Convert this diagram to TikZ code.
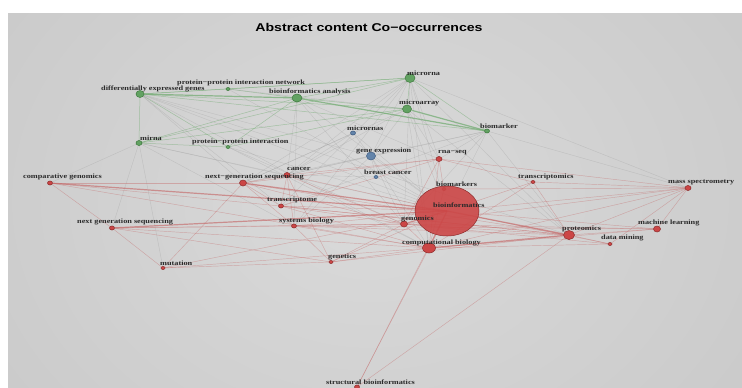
\documentclass[tikz,border=0pt]{standalone}
\usepackage{fontspec}
\usepackage{graphicx}
\setmainfont{Liberation Serif}
\newfontfamily\titlefont{Liberation Sans}
\usetikzlibrary{shapes.geometric}
\pgfdeclarelayer{back}
\pgfdeclarelayer{edges}
\pgfsetlayers{back,edges,main}
\newcommand\wlab[1]{\scalebox{1.25}[1]{#1}}
\definecolor{panel}{HTML}{CBCBCB}
\definecolor{panelin}{HTML}{DADADA}
\definecolor{gfill}{HTML}{62A262}
\definecolor{gline}{HTML}{3E7A3E}
\definecolor{rfill}{HTML}{CC4646}
\definecolor{rline}{HTML}{8E2C2C}
\definecolor{bfill}{HTML}{6384AA}
\definecolor{bline}{HTML}{3E5C82}
\definecolor{labtext}{HTML}{2A2A2A}
\definecolor{redgec}{HTML}{C46060}
\definecolor{gedgec}{HTML}{6EAA6E}
\definecolor{xedgec}{HTML}{9A9A9A}
\tikzset{
  dotbase/.style={ellipse, inner sep=0pt, line width=0.5pt},
  gdot/.style={dotbase, fill=gfill, draw=gline},
  rdot/.style={dotbase, fill=rfill, draw=rline},
  bdot/.style={dotbase, fill=bfill, draw=bline},
  sz/.style 2 args={minimum width=#1, minimum height=#2},
  lbl/.style={anchor=west, inner sep=0pt, text=labtext, font=\fontsize{6.6}{7}\selectfont\bfseries},
  redge/.style={draw=redgec, opacity=0.4, line width=0.45pt},
  redgeT/.style={draw=redgec, opacity=0.6, line width=1.2pt},
  gedge/.style={draw=gedgec, opacity=0.5, line width=0.5pt},
  gedgeT/.style={draw=gedgec, opacity=0.7, line width=1.2pt},
  xedge/.style={draw=xedgec, opacity=0.35, line width=0.4pt},
}
\begin{document}
\begin{tikzpicture}[x=1pt, y=-1pt]
\useasboundingbox (0,0) rectangle (742,388);
\begin{pgfonlayer}{back}
  \fill[white] (0,0) rectangle (742,388);
  \begin{scope}
    \clip (8,13) rectangle (742,388);
    \shade[inner color=panelin, outer color=panel] (-60,-140) rectangle (800,540);
  \end{scope}
\end{pgfonlayer}
\node[font=\titlefont\fontsize{11.3}{13}\selectfont\bfseries] (title) at (369,27) {\wlab{Abstract content Co−occurrences}};
% nodes
\node[gdot, sz={10}{9}] (mrna) at (410,78) {};
\node[gdot, sz={4}{3}] (ppin) at (228,89) {};
\node[gdot, sz={8}{7}] (deg) at (140,94) {};
\node[gdot, sz={10}{8}] (bia) at (297,98) {};
\node[gdot, sz={9}{8}] (marr) at (407,109) {};
\node[gdot, sz={5}{4}] (bmk) at (487,131) {};
\node[bdot, sz={5}{4}] (mrnas) at (353,133) {};
\node[bdot, sz={9}{8}] (gexp) at (371,156) {};
\node[rdot, sz={6}{5}] (rnaseq) at (439,159) {};
\node[gdot, sz={6}{5}] (mirna) at (139,143) {};
\node[gdot, sz={4}{3}] (ppi) at (228,147) {};
\node[rdot, sz={5}{4}] (cg) at (50,183) {};
\node[rdot, sz={7}{6}] (ngsa) at (243,183) {};
\node[rdot, sz={6}{5}] (cancer) at (287,175) {};
\node[bdot, sz={4}{3}] (bc) at (376,177) {};
\node[rdot, sz={4}{3}] (bmks) at (444,189) {};
\node[rdot, sz={64}{50}, fill opacity=0.9] (bio) at (447,211) {};
\node[rdot, sz={7}{6}] (gen) at (404,224) {};
\node[rdot, sz={13}{10}] (cb) at (429,248) {};
\node[rdot, sz={5}{4}] (tome) at (281,206) {};
\node[rdot, sz={5}{4}] (sb) at (294,226) {};
\node[rdot, sz={4}{3}] (genet) at (331,262) {};
\node[rdot, sz={4}{3}] (tmics) at (533,182) {};
\node[rdot, sz={6}{5}] (ms) at (688,188) {};
\node[rdot, sz={7}{6}] (ml) at (657,229) {};
\node[rdot, sz={11}{9}] (prot) at (569,235) {};
\node[rdot, sz={4}{3}] (dm) at (610,244) {};
\node[rdot, sz={5}{4}] (ngsb) at (112,228) {};
\node[rdot, sz={4}{3}] (mut) at (163,268) {};
\node[rdot, sz={5}{4}] (sbio) at (357,387) {};
% labels
\node[lbl] (t-mrna) at (407,73) {\wlab{microrna}};
\node[lbl] (t-ppin) at (177,83) {\wlab{protein−protein interaction network}};
\node[lbl] (t-deg) at (101,89) {\wlab{differentially expressed genes}};
\node[lbl] (t-bia) at (269,92) {\wlab{bioinformatics analysis}};
\node[lbl] (t-marr) at (399,103) {\wlab{microarray}};
\node[lbl] (t-bmk) at (480,126) {\wlab{biomarker}};
\node[lbl] (t-mrnas) at (347,128) {\wlab{micrornas}};
\node[lbl] (t-mirna) at (140,138) {\wlab{mirna}};
\node[lbl] (t-ppi) at (192,142) {\wlab{protein−protein interaction}};
\node[lbl] (t-gexp) at (356,151) {\wlab{gene expression}};
\node[lbl] (t-rnaseq) at (438,153) {\wlab{rna−seq}};
\node[lbl] (t-cancer) at (287,169) {\wlab{cancer}};
\node[lbl] (t-ngsa) at (205,177) {\wlab{next−generation sequencing}};
\node[lbl] (t-cg) at (23,177) {\wlab{comparative genomics}};
\node[lbl] (t-bc) at (364,172) {\wlab{breast cancer}};
\node[lbl] (t-tmics) at (518,177) {\wlab{transcriptomics}};
\node[lbl] (t-ms) at (668,182) {\wlab{mass spectrometry}};
\node[lbl] (t-bmks) at (436,184) {\wlab{biomarkers}};
\node[lbl] (t-tome) at (267,200) {\wlab{transcriptome}};
\node[lbl] (t-bio) at (433,205) {\wlab{bioinformatics}};
\node[lbl] (t-gen) at (401,219) {\wlab{genomics}};
\node[lbl] (t-sb) at (279,221) {\wlab{systems biology}};
\node[lbl] (t-ngsb) at (77,222) {\wlab{next generation sequencing}};
\node[lbl] (t-ml) at (638,223) {\wlab{machine learning}};
\node[lbl] (t-prot) at (562,229) {\wlab{proteomics}};
\node[lbl] (t-dm) at (601,238) {\wlab{data mining}};
\node[lbl] (t-cb) at (402,243) {\wlab{computational biology}};
\node[lbl] (t-genet) at (328,257) {\wlab{genetics}};
\node[lbl] (t-mut) at (160,263) {\wlab{mutation}};
\node[lbl] (t-sbio) at (326,382) {\wlab{structural bioinformatics}};
% edges
\begin{pgfonlayer}{edges}
\foreach \a/\b in {deg/marr, deg/mrna, deg/ppin, deg/mirna, deg/bmk, deg/ppi, bia/mrna, bia/marr, bia/ppin, mrna/marr, mrna/bmk, mrna/mirna, mirna/bia, mirna/marr, ppi/bia, ppin/mrna, ppi/marr, mirna/ppi}
  \draw[gedge] (\a) -- (\b);
\foreach \a/\b in {deg/bia, bia/bmk, marr/bmk}
  \draw[gedgeT] (\a) -- (\b);
\foreach \a/\b in {deg/bio, deg/gexp, bia/bio, mrna/bio, mrna/gexp, mrna/cancer, mrna/rnaseq, marr/bio, marr/gexp, marr/cancer, bmk/bio, bmk/cancer, bmk/ms, mirna/bio, mirna/cg, mirna/ngsb, ppi/bio, mrnas/gexp, mrnas/bio, gexp/bio, gexp/bc, bc/bio, mrnas/cancer, mrna/ms, bmk/tome, deg/cb, bia/cancer, mirna/cancer, deg/ngsa, mrna/cb, marr/cb, bia/gen, ppin/bio, mrna/gen, mrna/sb, bmk/ngsa, gexp/cancer, gexp/sb, bc/cancer, deg/tome, mirna/mut, bia/rnaseq, mrna/prot, marr/prot, bmk/prot, bmk/rnaseq, mrna/tome, bia/sb, ppi/gen, ppi/cb, deg/prot, marr/ngsa, mrnas/ngsa, gexp/gen, gexp/cb, bmk/gen, mrna/ngsa, marr/rnaseq, ppin/marr, mirna/sb}
  \draw[xedge] (\a) -- (\b);
\foreach \a/\b in {bio/ml, bio/ms, bio/tmics, bio/sb, bio/tome, bio/rnaseq, bio/bmks, bio/dm, bio/genet, bio/mut, bio/cancer, bio/sbio, cg/ngsa, cg/ngsb, ngsa/cancer, ngsa/rnaseq, ngsa/sb, ngsa/gen, ngsa/mut, ngsb/cb, ngsb/sb, ngsb/mut, ngsb/genet, mut/genet, genet/cb, genet/gen, genet/sb, sb/cb, sb/gen, tome/gen, tome/rnaseq, tome/cb, cb/ml, cb/ms, cb/dm, cb/gen, cb/sbio, prot/ms, prot/ml, prot/dm, prot/sbio, ml/ms, dm/ms, tmics/ms, tmics/prot, tmics/rnaseq, tmics/cb, rnaseq/ms, rnaseq/gen, rnaseq/cb, bmks/ms, bmks/cb, gen/prot, gen/ms, cancer/sb, cancer/genet, cancer/rnaseq, cancer/gen, gen/dm, cg/prot, cg/cb, ngsb/gen, ngsa/tome, cancer/tome, mut/cb, genet/prot, sb/prot, sb/ml, tome/prot, ngsa/prot, gen/ml}
  \draw[redge] (\a) -- (\b);
\foreach \a/\b in {bio/ngsa, bio/cg, bio/ngsb, bio/prot, bio/gen, bio/cb, cb/prot}
  \draw[redgeT] (\a.center) -- (\b);
\end{pgfonlayer}
\end{tikzpicture}
\end{document}
